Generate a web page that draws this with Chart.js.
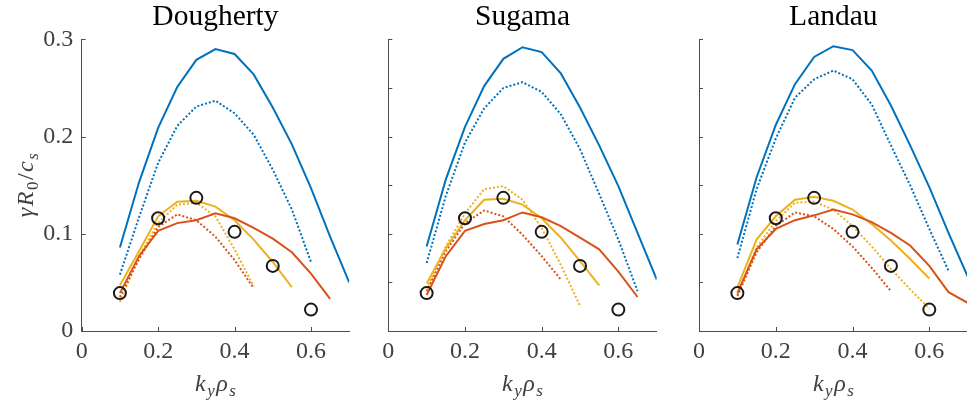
<!DOCTYPE html>
<html>
<head>
<meta charset="utf-8">
<script src="https://cdn.jsdelivr.net/npm/chart.js@4"></script>
<style>
  html, body { margin: 0; padding: 0; background: #fff; overflow: hidden; width: 967px; height: 404px; }
  canvas { position: absolute; top: 0; }
</style>
</head>
<body>
<canvas id="pDougherty" width="360" height="404" style="left:0px"></canvas>
<canvas id="pSugama" width="300" height="404" style="left:370px"></canvas>
<canvas id="pLandau" width="300" height="404" style="left:680px"></canvas>
<script>
// wavenumber grid k_y rho_s shared by all curves
const ky = [0.1, 0.15, 0.2, 0.25, 0.3, 0.35, 0.4, 0.45, 0.5, 0.55, 0.6, 0.65, 0.7];

// reference growth rates (open circles)
const kyRef = [0.1, 0.2, 0.3, 0.4, 0.5, 0.6];
const gammaRef = [0.039, 0.116, 0.137, 0.102, 0.067, 0.022];

// Dougherty operator: solid = full model, dotted = reduced model; series 1/2/3
const dougSolid1 = [0.086, 0.153, 0.209, 0.251, 0.279, 0.290, 0.285, 0.264, 0.230, 0.192, 0.147, 0.097, 0.050];
const dougDot1   = [0.058, 0.117, 0.173, 0.211, 0.231, 0.237, 0.224, 0.202, 0.166, 0.125, 0.071, null, null];
const dougSolid2 = [0.039, 0.077, 0.103, 0.111, 0.114, 0.121, 0.116, 0.106, 0.095, 0.081, 0.059, 0.033, null];
const dougDot2   = [0.035, 0.074, 0.107, 0.120, 0.114, 0.097, 0.073, 0.044, null, null, null, null, null];
const dougSolid3 = [0.047, 0.082, 0.118, 0.133, 0.134, 0.128, 0.114, 0.094, 0.071, 0.045, null, null, null];
const dougDot3   = [0.030, 0.077, 0.111, 0.130, 0.132, 0.118, 0.084, 0.046, null, null, null, null, null];

// Sugama operator
const sugSolid1 = [0.087, 0.156, 0.210, 0.252, 0.280, 0.292, 0.287, 0.265, 0.230, 0.191, 0.149, 0.101, 0.053];
const sugDot1   = [0.070, 0.139, 0.194, 0.229, 0.250, 0.256, 0.246, 0.223, 0.187, 0.141, 0.094, 0.041, null];
const sugSolid2 = [0.037, 0.077, 0.103, 0.110, 0.114, 0.122, 0.117, 0.108, 0.096, 0.084, 0.061, 0.035, null];
const sugDot2   = [0.041, 0.082, 0.111, 0.124, 0.118, 0.099, 0.077, 0.053, null, null, null, null, null];
const sugSolid3 = [0.049, 0.085, 0.114, 0.135, 0.136, 0.130, 0.116, 0.096, 0.072, 0.047, null, null, null];
const sugDot3   = [0.044, 0.087, 0.121, 0.146, 0.149, 0.135, 0.106, 0.068, 0.026, null, null, null, null];

// Landau operator
const lanSolid1 = [0.089, 0.158, 0.212, 0.254, 0.282, 0.293, 0.289, 0.268, 0.232, 0.191, 0.148, 0.101, 0.056];
const lanDot1   = [0.075, 0.146, 0.198, 0.240, 0.259, 0.268, 0.259, 0.233, 0.191, 0.150, 0.105, 0.062, null];
const lanSolid2 = [0.039, 0.084, 0.105, 0.114, 0.119, 0.125, 0.120, 0.112, 0.101, 0.088, 0.067, 0.040, 0.029];
const lanDot2   = [0.036, 0.081, 0.108, 0.122, 0.118, 0.105, 0.087, 0.065, 0.041, null, null, null, null];
const lanSolid3 = [0.045, 0.094, 0.118, 0.135, 0.138, 0.134, 0.125, 0.110, 0.093, 0.074, 0.054, null, null];
const lanDot3   = [0.037, 0.086, 0.113, 0.132, 0.133, 0.125, 0.108, 0.087, 0.064, 0.043, 0.023, null, null];

// axis ticks
const xTicks = [0, 0.2, 0.4, 0.6];
const yTicksLabelled = [0, 0.1, 0.2, 0.3];
const yTicksFine = [0, 0.05, 0.1, 0.15, 0.2, 0.25, 0.3];

const panelTitles = ['Dougherty', 'Sugama', 'Landau'];

// ---- styling ----
const SERIF = '"Liberation Serif", "DejaVu Serif", serif';
const AXIS_GREY = '#4d4d4d';
const TEXT_GREY = '#404040';
const seriesColors = ['#0072BD', '#D95319', '#EDB120'];

function toPoints(xs, ys) {
  const pts = [];
  xs.forEach((x, i) => { if (ys[i] !== null && ys[i] !== undefined) pts.push({ x: x, y: ys[i] }); });
  return pts;
}

// inward tick marks, as on a box-off axis
const innerTicks = {
  id: 'innerTicks',
  beforeDatasetsDraw(chart, args, opts) {
    const { ctx, chartArea, scales } = chart;
    ctx.save();
    ctx.strokeStyle = AXIS_GREY;
    ctx.lineWidth = 1;
    ctx.beginPath();
    scales.y.ticks.forEach(t => {
      const py = Math.round(scales.y.getPixelForValue(t.value)) + 0.5;
      ctx.moveTo(chartArea.left, py);
      ctx.lineTo(chartArea.left + 4, py);
    });
    scales.x.ticks.forEach(t => {
      const px = Math.round(scales.x.getPixelForValue(t.value)) + 0.5;
      ctx.moveTo(px, chartArea.bottom);
      ctx.lineTo(px, chartArea.bottom - 4);
    });
    ctx.stroke();
    ctx.restore();
  }
};

// axis titles with subscripts
function drawRich(ctx, parts, x, y) {
  const main = 24, sub = 17, gap = 1.5;
  const fontOf = p => (p.it ? 'italic ' : '') + (p.sub ? sub : main) + 'px ' + SERIF;
  let w = 0;
  parts.forEach((p, i) => { ctx.font = fontOf(p); w += ctx.measureText(p.t).width + (i ? gap : 0); });
  let cx = x - w / 2;
  ctx.textAlign = 'left';
  ctx.textBaseline = 'alphabetic';
  parts.forEach(p => {
    ctx.font = fontOf(p);
    ctx.fillText(p.t, cx, y + (p.sub ? 5 : 0));
    cx += ctx.measureText(p.t).width + gap;
  });
}

const xLabelParts = [{ t: 'k', it: true }, { t: 'y', it: true, sub: true }, { t: 'ρ', it: true }, { t: 's', it: true, sub: true }];
const yLabelParts = [{ t: 'γ', it: true }, { t: 'R', it: true }, { t: '0', sub: true }, { t: '/' }, { t: 'c', it: true }, { t: 's', it: true, sub: true }];

const axisTitles = {
  id: 'axisTitles',
  afterDraw(chart, args, opts) {
    const { ctx, chartArea } = chart;
    ctx.save();
    ctx.fillStyle = TEXT_GREY;
    drawRich(ctx, xLabelParts, (chartArea.left + chartArea.right) / 2, 391);
    if (opts.yLabel) {
      ctx.translate(33, (chartArea.top + chartArea.bottom) / 2);
      ctx.rotate(-Math.PI / 2);
      drawRich(ctx, yLabelParts, 0, 0);
    }
    ctx.restore();
  }
};

function makePanel(canvasId, title, curves, layout) {
  const datasets = [{
    label: 'reference',
    data: toPoints(kyRef, gammaRef),
    showLine: false,
    pointStyle: 'circle',
    pointRadius: 6,
    pointBorderWidth: 2,
    pointBorderColor: '#1a1a1a',
    pointBackgroundColor: 'rgba(0,0,0,0)',
    borderColor: '#1a1a1a'
  }];
  curves.forEach(c => {
    datasets.push({
      data: toPoints(ky, c.values),
      borderColor: seriesColors[c.series],
      borderWidth: 2,
      borderDash: c.dotted ? [2, 2] : [],
      pointRadius: 0,
      tension: 0,
      fill: false
    });
  });

  return new Chart(document.getElementById(canvasId), {
    type: 'line',
    data: { datasets },
    plugins: [innerTicks, axisTitles],
    options: {
      responsive: false,
      animation: false,
      devicePixelRatio: 1,
      layout: { padding: { left: 0, right: layout.padRight, top: 0, bottom: 0 } },
      plugins: {
        legend: { display: false },
        tooltip: { enabled: false },
        title: {
          display: true,
          text: title,
          fullSize: false,
          color: '#000',
          font: { family: SERIF, size: 29.5, weight: 'normal', lineHeight: 1.15 },
          padding: { top: 0, bottom: 5.5 }
        },
        axisTitles: { yLabel: layout.yLabel }
      },
      scales: {
        x: {
          type: 'linear',
          min: 0, max: 0.7,
          afterBuildTicks: s => { s.ticks = xTicks.map(v => ({ value: v })); },
          afterFit: s => { s.height = 73; },
          grid: { display: false, drawTicks: false },
          border: { display: true, color: AXIS_GREY, width: 1 },
          ticks: {
            color: TEXT_GREY,
            padding: 6,
            maxRotation: 0,
            autoSkip: false,
            font: { family: SERIF, size: 24 },
            callback: v => (v === 0 ? '0' : String(Math.round(v * 10) / 10))
          }
        },
        y: {
          type: 'linear',
          min: 0, max: 0.3,
          afterBuildTicks: s => { s.ticks = layout.yTicks.map(v => ({ value: v })); },
          afterFit: s => { s.width = layout.yWidth; },
          grid: { display: false, drawTicks: false },
          border: { display: true, color: AXIS_GREY, width: 1 },
          ticks: {
            display: layout.yLabel,
            color: TEXT_GREY,
            padding: 8.5,
            autoSkip: false,
            font: { family: SERIF, size: 24 },
            callback: v => (v === 0 ? '0' : String(Math.round(v * 10) / 10))
          }
        }
      }
    }
  });
}

makePanel('pDougherty', panelTitles[0], [
  { series: 0, values: dougSolid1 }, { series: 1, values: dougSolid2 }, { series: 2, values: dougSolid3 },
  { series: 0, values: dougDot1, dotted: true }, { series: 1, values: dougDot2, dotted: true }, { series: 2, values: dougDot3, dotted: true }
], { padRight: 10.8, yWidth: 81.7, yTicks: yTicksLabelled, yLabel: true });

makePanel('pSugama', panelTitles[1], [
  { series: 0, values: sugSolid1 }, { series: 1, values: sugSolid2 }, { series: 2, values: sugSolid3 },
  { series: 0, values: sugDot1, dotted: true }, { series: 1, values: sugDot2, dotted: true }, { series: 2, values: sugDot3, dotted: true }
], { padRight: 13.3, yWidth: 18.3, yTicks: yTicksFine, yLabel: false });

makePanel('pLandau', panelTitles[2], [
  { series: 0, values: lanSolid1 }, { series: 1, values: lanSolid2 }, { series: 2, values: lanSolid3 },
  { series: 0, values: lanDot1, dotted: true }, { series: 1, values: lanDot2, dotted: true }, { series: 2, values: lanDot3, dotted: true }
], { padRight: 12.3, yWidth: 19, yTicks: yTicksFine, yLabel: false });
</script>
</body>
</html>
